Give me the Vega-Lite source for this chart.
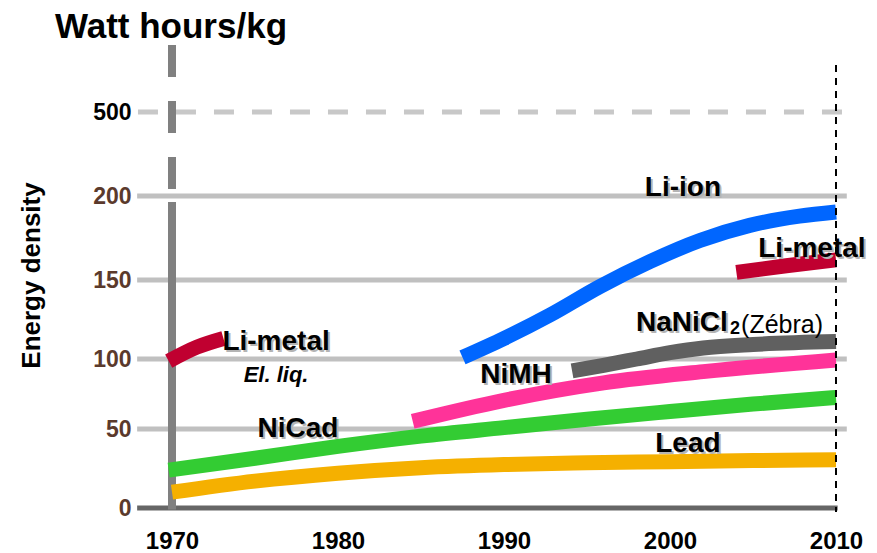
{
  "$schema": "https://vega.github.io/schema/vega-lite/v6.json",
  "width": 877,
  "height": 453,
  "autosize": {"type": "none"},
  "padding": {"left": 0, "right": 0, "top": 55, "bottom": 45},
  "background": "white",
  "config": {"view": {"stroke": null}, "font": "Liberation Sans"},
  "title": {"text": "Watt hours/kg", "anchor": "start", "frame": "group", "dx": 55, "dy": 14, "offset": 10, "fontSize": 35, "fontWeight": "bold", "color": "black", "font": "Liberation Sans"},
  "datasets": {
    "grid": [{"v": 50}, {"v": 100}, {"v": 150}, {"v": 200}],
    "grid500": [{"v": 500}],
    "zero": [{"v": 0}],
    "start": [{"year": 1970}],
    "end": [{"year": 2010}],
    "curves": [
      {"series": "Lead", "year": 1970, "value": 10},
      {"series": "Lead", "year": 1975, "value": 17},
      {"series": "Lead", "year": 1980, "value": 22},
      {"series": "Lead", "year": 1985, "value": 25.5},
      {"series": "Lead", "year": 1990, "value": 27.5},
      {"series": "Lead", "year": 1995, "value": 28.6},
      {"series": "Lead", "year": 2000, "value": 29.3},
      {"series": "Lead", "year": 2005, "value": 30},
      {"series": "Lead", "year": 2010, "value": 30.5},
      {"series": "NiCad", "year": 1969.8, "value": 24},
      {"series": "NiCad", "year": 1975, "value": 31.5},
      {"series": "NiCad", "year": 1980, "value": 39},
      {"series": "NiCad", "year": 1985, "value": 45.5},
      {"series": "NiCad", "year": 1990, "value": 51},
      {"series": "NiCad", "year": 1995, "value": 57},
      {"series": "NiCad", "year": 2000, "value": 62.5},
      {"series": "NiCad", "year": 2005, "value": 67.8},
      {"series": "NiCad", "year": 2010, "value": 72.5},
      {"series": "NiMH", "year": 1984.5, "value": 55.5},
      {"series": "NiMH", "year": 1990, "value": 70.5},
      {"series": "NiMH", "year": 1996, "value": 83},
      {"series": "NiMH", "year": 2002, "value": 91},
      {"series": "NiMH", "year": 2010, "value": 99.3},
      {"series": "NaNiCl2", "year": 1994.1, "value": 91.5},
      {"series": "NaNiCl2", "year": 1996, "value": 95.5},
      {"series": "NaNiCl2", "year": 1998, "value": 100},
      {"series": "NaNiCl2", "year": 2000, "value": 104},
      {"series": "NaNiCl2", "year": 2002, "value": 107},
      {"series": "NaNiCl2", "year": 2005, "value": 109.2},
      {"series": "NaNiCl2", "year": 2010, "value": 111},
      {"series": "Li-ion", "year": 1987.5, "value": 101},
      {"series": "Li-ion", "year": 1990, "value": 113},
      {"series": "Li-ion", "year": 1992.8, "value": 128},
      {"series": "Li-ion", "year": 1995.8, "value": 146},
      {"series": "Li-ion", "year": 1998.8, "value": 161},
      {"series": "Li-ion", "year": 2001.8, "value": 173.5},
      {"series": "Li-ion", "year": 2004.8, "value": 182.5},
      {"series": "Li-ion", "year": 2007.8, "value": 188},
      {"series": "Li-ion", "year": 2010, "value": 190.5},
      {"series": "Li-metal A", "year": 1969.8, "value": 98.5},
      {"series": "Li-metal A", "year": 1971.5, "value": 107.5},
      {"series": "Li-metal A", "year": 1973.1, "value": 113},
      {"series": "Li-metal B", "year": 2004, "value": 154.5},
      {"series": "Li-metal B", "year": 2007, "value": 158.5},
      {"series": "Li-metal B", "year": 2010, "value": 162}
    ],
    "labels": [
      {"label": "Li-metal", "year": 1976.27, "value": 110.8},
      {"label": "El. liq.", "year": 1976.27, "value": 88.6},
      {"label": "NiCad", "year": 1977.59, "value": 49.7},
      {"label": "Li-ion", "year": 2000.78, "value": 226.8},
      {"label": "Li-metal", "year": 2008.55, "value": 168.75},
      {"label": "NaNiCl", "year": 2000.72, "value": 122.8},
      {"label": "2", "year": 2003.92, "value": 118.7},
      {"label": "(Zébra)", "year": 2006.75, "value": 121.5},
      {"label": "NiMH", "year": 1990.72, "value": 88.6},
      {"label": "Lead", "year": 2001.08, "value": 40.2}
    ]
  },
  "layer": [
    {
      "data": {"name": "curves"},
      "mark": {"type": "line", "strokeWidth": 15, "interpolate": "monotone", "strokeCap": "butt", "opacity": 0},
      "encoding": {
        "x": {"field": "year", "type": "quantitative",
          "scale": {"type": "linear", "domain": [1970, 2010], "range": [172, 836], "nice": false, "zero": false},
          "axis": {"values": [1970, 1980, 1990, 2000, 2010], "format": "d", "domain": false, "ticks": false, "grid": false, "labelPadding": 21, "labelFontSize": 24, "labelFontWeight": "bold", "labelColor": "black", "labelFont": "Liberation Sans", "labelFlush": false, "labelOverlap": false, "title": null}},
        "y": {"field": "value", "type": "quantitative",
          "scale": {"type": "linear", "domain": [0, 50, 100, 150, 200, 500], "range": [453, 374, 304, 225, 141, 57], "nice": false, "zero": false},
          "axis": {"values": [0, 50, 100, 150, 200, 500], "offset": -137, "domain": false, "ticks": false, "grid": false, "labelPadding": 6, "labelFontSize": 23, "labelFontWeight": "bold", "labelFont": "Liberation Sans", "labelBaseline": "middle", "labelOverlap": false, "labelFlush": false,
            "labelColor": {"condition": {"test": "datum.value === 500", "value": "black"}, "value": "#5b3a2c"},
            "title": "Energy density", "titleFontSize": 26, "titleFontWeight": "bold", "titleFont": "Liberation Sans", "titleColor": "black", "titleX": -106, "titleY": 220, "titleAngle": 270, "titleAlign": "center", "titleBaseline": "middle"}},
        "color": {"field": "series", "type": "nominal", "legend": null,
          "scale": {"domain": ["Lead", "NiCad", "NiMH", "NaNiCl2", "Li-ion", "Li-metal A", "Li-metal B"], "range": ["#F5B000", "#33CC33", "#FF3399", "#606060", "#0066FF", "#C00030", "#C00030"]}}
      }
    },
    {
      "data": {"name": "grid"},
      "mark": {"type": "rule", "color": "#c0c0c0", "strokeWidth": 5},
      "encoding": {
        "x": {"datum": 1967.9, "type": "quantitative"},
        "x2": {"datum": 2010.65},
        "y": {"field": "v", "type": "quantitative"}
      }
    },
    {
      "data": {"name": "grid500"},
      "mark": {"type": "rule", "color": "#c8c8c8", "strokeWidth": 5, "strokeDash": [20, 18]},
      "encoding": {
        "x": {"datum": 1967.95, "type": "quantitative"},
        "x2": {"datum": 2011.15},
        "y": {"field": "v", "type": "quantitative"}
      }
    },
    {
      "data": {"name": "zero"},
      "mark": {"type": "rule", "color": "#666666", "strokeWidth": 5},
      "encoding": {
        "x": {"datum": 1967.9, "type": "quantitative"},
        "x2": {"datum": 2010.1},
        "y": {"field": "v", "type": "quantitative"}
      }
    },
    {
      "data": {"name": "start"},
      "mark": {"type": "rule", "color": "#808080", "strokeWidth": 8},
      "encoding": {
        "x": {"field": "year", "type": "quantitative"},
        "y": {"datum": -1, "type": "quantitative"},
        "y2": {"datum": 196.4}
      }
    },
    {
      "data": {"name": "start"},
      "mark": {"type": "rule", "color": "#808080", "strokeWidth": 8, "strokeDash": [32, 24]},
      "encoding": {
        "x": {"field": "year", "type": "quantitative"},
        "y": {"datum": 739, "type": "quantitative"},
        "y2": {"datum": 204.2}
      }
    },
    {
      "data": {"name": "curves"},
      "mark": {"type": "line", "strokeWidth": 15, "interpolate": "monotone", "strokeCap": "butt"},
      "encoding": {
        "x": {"field": "year", "type": "quantitative"},
        "y": {"field": "value", "type": "quantitative"},
        "color": {"field": "series", "type": "nominal", "legend": null}
      }
    },
    {
      "data": {"name": "labels"},
      "transform": [{"filter": "datum.label !== 'El. liq.' && datum.label !== '2' && datum.label !== '(Zébra)'"}],
      "mark": {"type": "text", "fontSize": 28, "fontWeight": "bold", "color": "#b4b4b4", "align": "center", "baseline": "middle", "dx": 2, "dy": 2},
      "encoding": {
        "x": {"field": "year", "type": "quantitative"},
        "y": {"field": "value", "type": "quantitative"},
        "text": {"field": "label"}
      }
    },
    {
      "data": {"name": "labels"},
      "transform": [{"filter": "datum.label !== 'El. liq.' && datum.label !== '2' && datum.label !== '(Zébra)'"}],
      "mark": {"type": "text", "fontSize": 28, "fontWeight": "bold", "color": "black", "align": "center", "baseline": "middle"},
      "encoding": {
        "x": {"field": "year", "type": "quantitative"},
        "y": {"field": "value", "type": "quantitative"},
        "text": {"field": "label"}
      }
    },
    {
      "data": {"name": "labels"},
      "transform": [{"filter": "datum.label === 'El. liq.'"}],
      "mark": {"type": "text", "fontSize": 22, "fontWeight": "bold", "fontStyle": "italic", "color": "black", "align": "center", "baseline": "middle"},
      "encoding": {
        "x": {"field": "year", "type": "quantitative"},
        "y": {"field": "value", "type": "quantitative"},
        "text": {"field": "label"}
      }
    },
    {
      "data": {"name": "labels"},
      "transform": [{"filter": "datum.label === '2'"}],
      "mark": {"type": "text", "fontSize": 18, "fontWeight": "bold", "color": "black", "align": "center", "baseline": "middle"},
      "encoding": {
        "x": {"field": "year", "type": "quantitative"},
        "y": {"field": "value", "type": "quantitative"},
        "text": {"field": "label"}
      }
    },
    {
      "data": {"name": "labels"},
      "transform": [{"filter": "datum.label === '(Zébra)'"}],
      "mark": {"type": "text", "fontSize": 25, "fontWeight": "normal", "color": "black", "align": "center", "baseline": "middle"},
      "encoding": {
        "x": {"field": "year", "type": "quantitative"},
        "y": {"field": "value", "type": "quantitative"},
        "text": {"field": "label"}
      }
    },
    {
      "data": {"name": "end"},
      "mark": {"type": "rule", "color": "black", "strokeWidth": 2, "strokeDash": [7, 6]},
      "encoding": {
        "x": {"field": "year", "type": "quantitative"},
        "y": {"datum": 668, "type": "quantitative"},
        "y2": {"datum": -2.5}
      }
    }
  ]
}
